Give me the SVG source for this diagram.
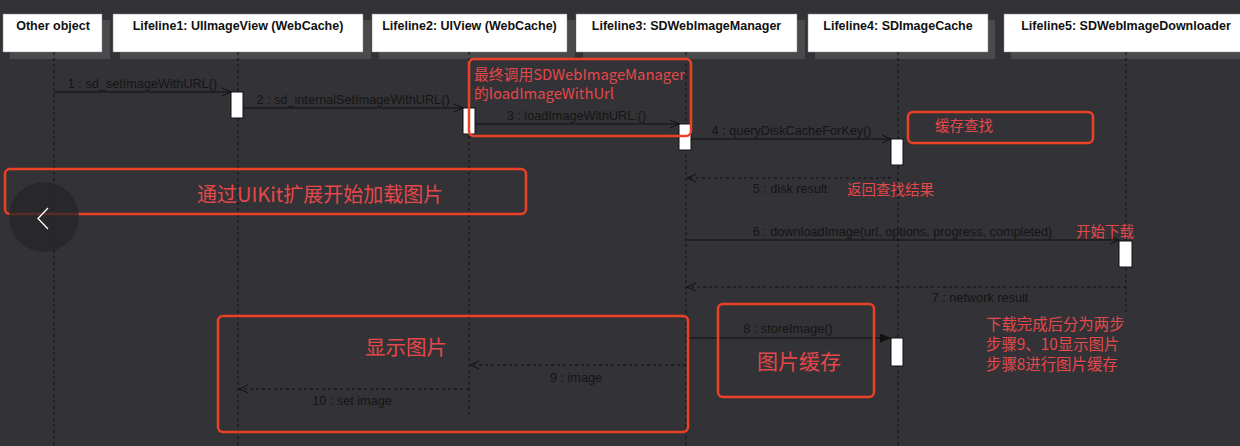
<svg xmlns="http://www.w3.org/2000/svg" width="1240" height="446" viewBox="0 0 1240 446">
<style>
.hdr{fill:#fff;stroke:#888;stroke-width:0.5}
.shd{fill:#4a494c}
.ht{font-family:"Liberation Sans",Arial,sans-serif;font-size:12.5px;font-weight:bold;fill:#111;text-anchor:middle}
.life{stroke:#111;stroke-width:1;stroke-dasharray:3 3;fill:none}
.act{fill:#fff;stroke:#111;stroke-width:1}
.msg{stroke:#111;stroke-width:1;fill:none}
.ret{stroke:#111;stroke-width:1;fill:none;stroke-dasharray:3 3}
.ml{font-family:"Liberation Sans",Arial,sans-serif;font-size:12.7px;fill:#151515;text-anchor:middle}
.rb{fill:none;stroke:#ec4126;stroke-width:2.5}
.rt{font-family:"Noto Sans CJK SC","Liberation Sans",sans-serif;fill:#e5484a}
</style>
<defs>
<marker id="open" markerWidth="12" markerHeight="10" refX="10" refY="5" orient="auto" markerUnits="userSpaceOnUse">
<path d="M1,1 L10,5 L1,9" fill="none" stroke="#111" stroke-width="1" stroke-dasharray="none"/>
</marker>
<marker id="filled" markerWidth="12" markerHeight="10" refX="11" refY="5" orient="auto" markerUnits="userSpaceOnUse">
<path d="M0,0.5 L11,5 L0,9.5 Z" fill="#111" stroke="none"/>
</marker>
</defs>
<rect x="0" y="0" width="1240" height="446" fill="#333236"/>

<g id="node-other">
<rect class="shd" x="10" y="20" width="100" height="39"/>
<rect class="hdr" x="3" y="14" width="99" height="38"/>
<text class="ht" x="53" y="30">Other object</text>
<line class="life" x1="54" y1="52" x2="54" y2="446"/>
</g>
<g id="node-lifeline1">
<rect class="shd" x="120" y="20" width="251" height="39"/>
<rect class="hdr" x="113" y="14" width="250" height="38"/>
<text class="ht" x="238" y="30">Lifeline1: UIImageView (WebCache)</text>
<line class="life" x1="238" y1="52" x2="238" y2="446"/>
<rect class="act" x="231" y="92" width="12" height="26"/>
</g>
<g id="node-lifeline2">
<rect class="shd" x="379" y="20" width="196" height="39"/>
<rect class="hdr" x="372" y="14" width="195" height="38"/>
<text class="ht" x="469.5" y="30">Lifeline2: UIView (WebCache)</text>
<line class="life" x1="469" y1="52" x2="469" y2="418"/>
<rect class="act" x="463" y="108" width="12" height="26"/>
</g>
<g id="node-lifeline3">
<rect class="shd" x="583" y="20" width="222" height="39"/>
<rect class="hdr" x="576" y="14" width="221" height="38"/>
<text class="ht" x="686.5" y="30">Lifeline3: SDWebImageManager</text>
<line class="life" x1="686" y1="52" x2="686" y2="446"/>
<rect class="act" x="679" y="124" width="12" height="26"/>
</g>
<g id="node-lifeline4">
<rect class="shd" x="815" y="20" width="180" height="39"/>
<rect class="hdr" x="808" y="14" width="180" height="38"/>
<text class="ht" x="898" y="30">Lifeline4: SDImageCache</text>
<line class="life" x1="898" y1="52" x2="898" y2="446"/>
<rect class="act" x="891" y="139" width="12" height="26"/>
<rect class="act" x="891" y="338" width="12" height="28"/>
</g>
<g id="node-lifeline5">
<rect class="shd" x="1011" y="20" width="240" height="39"/>
<rect class="hdr" x="1004" y="14" width="244" height="38"/>
<text class="ht" x="1126" y="30">Lifeline5: SDWebImageDownloader</text>
<line class="life" x1="1126" y1="52" x2="1126" y2="312"/>
<rect class="act" x="1119" y="241" width="13" height="26"/>
</g>

<g id="connectors">
<line class="msg" x1="54" y1="92" x2="231" y2="92" marker-end="url(#open)"/>
<text class="ml" x="142.5" y="88">1 : sd_setImageWithURL()</text>
<line class="msg" x1="243" y1="108" x2="463" y2="108" marker-end="url(#open)"/>
<text class="ml" x="353" y="104">2 : sd_internalSetImageWithURL()</text>
<line class="msg" x1="475" y1="124" x2="679" y2="124" marker-end="url(#open)"/>
<text class="ml" x="576.5" y="120">3 : loadImageWithURL:()</text>
<line class="msg" x1="691" y1="139" x2="891" y2="139" marker-end="url(#open)"/>
<text class="ml" x="791.5" y="135">4 : queryDiskCacheForKey()</text>
<line class="ret" x1="891" y1="178" x2="687" y2="178" marker-end="url(#open)"/>
<text class="ml" x="790" y="193">5 : disk result</text>
<line class="msg" x1="686" y1="240" x2="1119" y2="240" marker-end="url(#open)"/>
<text class="ml" x="902.5" y="236">6 : downloadImage(url, options, progress, completed)</text>
<line class="ret" x1="1126" y1="287" x2="687" y2="287" marker-end="url(#open)"/>
<text class="ml" x="980" y="302">7 : network result</text>
<line class="msg" x1="686" y1="338" x2="891" y2="338" marker-end="url(#filled)"/>
<text class="ml" x="788" y="333">8 : storeImage()</text>
<line class="ret" x1="686" y1="365" x2="470" y2="365" marker-end="url(#open)"/>
<text class="ml" x="576" y="382">9 : image</text>
<line class="ret" x1="469" y1="389" x2="239" y2="389" marker-end="url(#open)"/>
<text class="ml" x="352" y="405">10 : set image</text>
</g>

<g id="note-manager">
<rect class="rb" x="469" y="59" width="222" height="77" rx="5"/>
<text class="rt" x="474" y="80" font-size="14.8">最终调用SDWebImageManager</text>
<text class="rt" x="474" y="99" font-size="14.8">的loadImageWithUrl</text>
</g>
<g id="note-cache-lookup">
<rect class="rb" x="908" y="112" width="185" height="31" rx="5"/>
<text class="rt" x="935" y="131" font-size="14.5">缓存查找</text>
</g>
<g id="note-return">
<text class="rt" x="847" y="195" font-size="14.5">返回查找结果</text>
</g>
<g id="note-uikit">
<rect class="rb" x="5" y="169" width="521" height="45" rx="5"/>
<text class="rt" x="197" y="202" font-size="20">通过UIKit扩展开始加载图片</text>
</g>
<g id="note-download">
<text class="rt" x="1076" y="237" font-size="14.5">开始下载</text>
</g>
<g id="note-display">
<rect class="rb" x="218" y="316" width="470" height="116" rx="5"/>
<text class="rt" x="365" y="355" font-size="20.5">显示图片</text>
</g>
<g id="note-store">
<rect class="rb" x="718" y="304" width="156" height="93" rx="5"/>
<text class="rt" x="757" y="369" font-size="21">图片缓存</text>
</g>
<g id="note-summary">
<text class="rt" x="986" y="330" font-size="15.4">下载完成后分为两步</text>
<text class="rt" x="986" y="350" font-size="15.4">步骤9、10显示图片</text>
<text class="rt" x="986" y="370" font-size="15.4">步骤8进行图片缓存</text>
</g>

<g id="overlay-back">
<circle cx="44" cy="217" r="35" fill="#262628" fill-opacity="0.75"/>
<path d="M48,208 L38,218.5 L48,229" fill="none" stroke="#fff" stroke-width="1.3"/>
</g>
</svg>
